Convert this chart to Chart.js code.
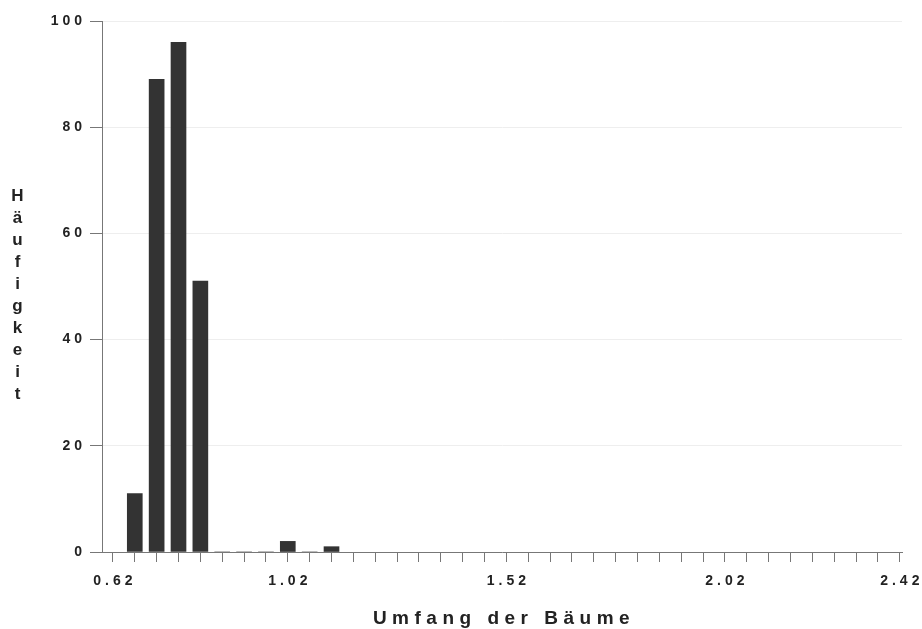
<!DOCTYPE html>
<html lang="de">
<head>
    <meta charset="UTF-8">
    <title>Häufigkeit – Umfang der Bäume</title>
    <script src="https://cdn.jsdelivr.net/npm/chart.js@4.4.1/dist/chart.umd.min.js"></script>
    <style>
        body { margin: 0; background: #fff; }
        .wrap { position: relative; width: 922px; height: 629px; }
        .ytitle {
            position: absolute; left: 7px; top: 186px;
            writing-mode: vertical-lr; text-orientation: upright;
            font: bold 17px "Liberation Sans", Arial, sans-serif;
            letter-spacing: 3px; color: #222;
        }
        .xtitle {
            position: absolute; left: 0; width: 1008px; top: 607px;
            text-align: center;
            font: bold 19px "Liberation Sans", Arial, sans-serif;
            letter-spacing: 5.5px; color: #222;
        }
    </style>
</head>
<body>
<div class="wrap">
    <canvas id="chart"></canvas>
    <div class="ytitle">Häufigkeit</div>
    <div class="xtitle">Umfang der Bäume</div>
</div>
<script>
    // Klassenmitten und Häufigkeiten
    const binCenters = [0.67, 0.72, 0.77, 0.82, 0.87, 0.92, 0.97, 1.02, 1.07, 1.12];
    const counts = [11, 89, 96, 51, 0, 0, 0, 2, 0, 1];

    // Achsenbeschriftung
    const xTickLabels = ['0.62', '1.02', '1.52', '2.02', '2.42'];
    const xTickStep = 0.05;
    const xFirst = 0.62, xLast = 2.42;
    const yTicks = [0, 20, 40, 60, 80, 100];

    // Buchstabenabstand fürs Canvas
    const spacing = {
        id: 'spacing',
        beforeLayout(chart) { chart.ctx.letterSpacing = '4px'; },
        beforeDraw(chart) { chart.ctx.letterSpacing = '4px'; }
    };

    const ctx = document.getElementById('chart').getContext('2d');
    new Chart(ctx, {
        type: 'bar',
        data: {
            datasets: [{
                data: binCenters.map((x, i) => ({ x: x, y: counts[i] })),
                backgroundColor: '#333333',
                borderWidth: 0,
                barThickness: 15
            }]
        },
        plugins: [spacing],
        options: {
            responsive: true,
            maintainAspectRatio: false,
            animation: false,
            layout: { padding: { left: 0, right: 20, top: 21, bottom: 0 } },
            plugins: { legend: { display: false }, tooltip: { enabled: false } },
            scales: {
                x: {
                    type: 'linear',
                    offset: false,
                    min: 0.595,
                    max: 2.425,
                    afterBuildTicks(scale) {
                        const t = [];
                        const n = Math.round((xLast - xFirst) / xTickStep);
                        for (let i = 0; i <= n; i++) t.push({ value: +(xFirst + i * xTickStep).toFixed(2) });
                        scale.ticks = t;
                    },
                    afterFit(scale) {
                        scale.height = 77;
                        scale.paddingLeft = 0;
                        scale.paddingRight = 0;
                    },
                    border: { color: '#777', width: 1 },
                    grid: { offset: false, drawOnChartArea: false, tickLength: 10, tickColor: '#777' },
                    ticks: {
                        autoSkip: false, maxRotation: 0, padding: 11, labelOffset: 2,
                        color: '#222',
                        font: { family: '"Liberation Sans", Arial, sans-serif', size: 14, weight: 'bold' },
                        callback(v) {
                            const s = v.toFixed(2);
                            return xTickLabels.includes(s) ? s : '';
                        }
                    }
                },
                y: {
                    min: 0,
                    max: 100,
                    afterBuildTicks(scale) { scale.ticks = yTicks.map(v => ({ value: v })); },
                    afterFit(scale) { scale.width = 102; },
                    border: { color: '#777', width: 1 },
                    grid: { color: '#eeeeee', tickLength: 12, tickColor: '#777' },
                    ticks: {
                        padding: 4, color: '#222',
                        font: { family: '"Liberation Sans", Arial, sans-serif', size: 14, weight: 'bold' }
                    }
                }
            }
        }
    });
</script>
</body>
</html>
